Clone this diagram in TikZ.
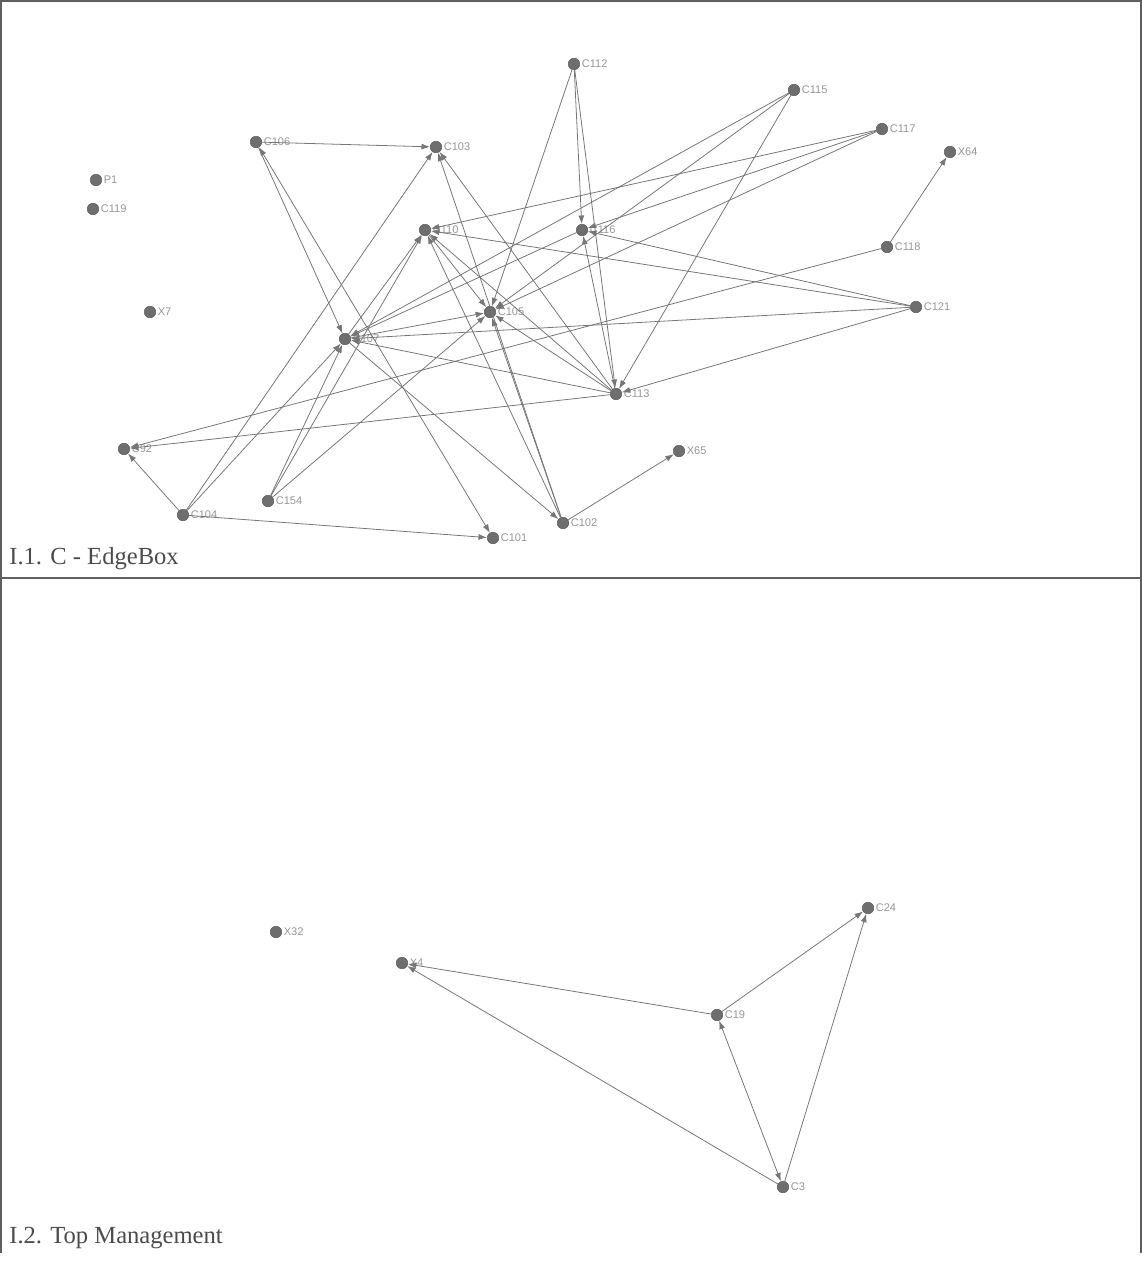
\documentclass[tikz,border=0pt]{standalone}
\usepackage{fontspec}
\setmainfont{Liberation Serif}
\setsansfont{Liberation Sans}
\usetikzlibrary{arrows.meta}
\definecolor{edgegray}{RGB}{118, 118, 118}
\definecolor{dotgray}{RGB}{110, 110, 110}
\definecolor{labgray}{RGB}{150, 150, 150}
\definecolor{framegray}{RGB}{95, 95, 95}
\definecolor{capgray}{RGB}{75, 75, 75}
\tikzset{
    vx/.style   ={circle, fill=dotgray, draw=dotgray!85!black, line width=0.3pt,
                  inner sep=0pt, minimum size=0.23cm},
    tag/.style  ={font=\sffamily\fontsize{6.3}{7}\selectfont, text=labgray,
                  inner sep=0.8pt},
    ed/.style   ={-{Latex[length=1.7mm, width=1.2mm]}, line width=0.45pt, draw=edgegray},
    edb/.style  ={{Latex[length=1.7mm, width=1.2mm]}-{Latex[length=1.7mm, width=1.2mm]},
                  line width=0.45pt, draw=edgegray},
    frame/.style={draw=framegray, line width=0.6pt},
    captxt/.style={font=\fontsize{14}{16}\selectfont, text=capgray, anchor=west, inner sep=0pt}
}

\begin{document}
\begin{tikzpicture}[x=0.02cm, y=-0.02cm]
  \useasboundingbox (0,0) rectangle (1142,1265);
  \draw[frame] (1,1253) -- (1,1) -- (1141,1) -- (1141,1253);
  \draw[frame] (1,578) -- (1141,578);

  % panel I.1
  \node[vx, label={[tag]right:C112}] (c112) at (574,64)  {};
  \node[vx, label={[tag]right:C115}] (c115) at (794,90)  {};
  \node[vx, label={[tag]right:C117}] (c117) at (882,129) {};
  \node[vx, label={[tag]right:X64}]  (x64)  at (950,152) {};
  \node[vx, label={[tag]right:C106}] (c106) at (256,142) {};
  \node[vx, label={[tag]right:C103}] (c103) at (436,147) {};
  \node[vx, label={[tag]right:P1}]   (p1)   at (96,180)  {};
  \node[vx, label={[tag]right:C119}] (c119) at (93,209)  {};
  \node[vx, label={[tag]right:C110}] (c110) at (425,230) {};
  \node[vx, label={[tag]right:C116}] (c116) at (582,230) {};
  \node[vx, label={[tag]right:C118}] (c118) at (887,247) {};
  \node[vx, label={[tag]right:X7}]   (x7)   at (150,312) {};
  \node[vx, label={[tag]right:C105}] (c105) at (490,312) {};
  \node[vx, label={[tag]right:C121}] (c121) at (916,307) {};
  \node[vx, label={[tag]right:C107}] (c107) at (345,339) {};
  \node[vx, label={[tag]right:C113}] (c113) at (616,394) {};
  \node[vx, label={[tag]right:C92}]  (c92)  at (124,449) {};
  \node[vx, label={[tag]right:X65}]  (x65)  at (679,451) {};
  \node[vx, label={[tag]right:C154}] (c154) at (268,501) {};
  \node[vx, label={[tag]right:C104}] (c104) at (183,515) {};
  \node[vx, label={[tag]right:C102}] (c102) at (563,523) {};
  \node[vx, label={[tag]right:C101}] (c101) at (493,538) {};

  \draw[ed] (c106) -- (c103);  \draw[ed] (c106) -- (c107);  \draw[edb] (c106) -- (c101);
  \draw[ed] (c104) -- (c103);  \draw[ed] (c104) -- (c107);  \draw[ed] (c104) -- (c92);
  \draw[ed] (c104) -- (c101);
  \draw[ed] (c154) -- (c107);  \draw[ed] (c154) -- (c110);  \draw[ed] (c154) -- (c105);
  \draw[ed] (c102) -- (c103);  \draw[ed] (c102) -- (c110);  \draw[ed] (c102) -- (c105);
  \draw[ed] (c102) -- (x65);   \draw[ed] (c107) -- (c102);
  \draw[ed] (c121) -- (c110);  \draw[ed] (c117) -- (c110);  \draw[ed] (c113) -- (c110);
  \draw[ed] (c110) -- (c105);  \draw[ed] (c107) -- (c110);
  \draw[ed] (c112) -- (c116);  \draw[ed] (c112) -- (c113);  \draw[ed] (c112) -- (c105);
  \draw[ed] (c113) -- (c116);  \draw[ed] (c121) -- (c116);  \draw[ed] (c117) -- (c116);
  \draw[ed] (c116) -- (c107);
  \draw[ed] (c115) -- (c107);  \draw[ed] (c115) -- (c105);  \draw[ed] (c115) -- (c113);
  \draw[ed] (c117) -- (c105);
  \draw[ed] (c118) -- (x64);   \draw[ed] (c118) -- (c92);   \draw[ed] (c113) -- (c92);
  \draw[ed] (c121) -- (c107);  \draw[ed] (c113) -- (c107);  \draw[ed] (c121) -- (c113);
  \draw[ed] (c113) -- (c103);  \draw[ed] (c113) -- (c105);  \draw[ed] (c107) -- (c105);

  \node[captxt] (cap1) at (9,559) {I.1. C - EdgeBox};

  % panel I.2
  \node[vx, label={[tag]right:X32}] (x32) at (276,932)  {};
  \node[vx, label={[tag]right:X4}]  (x4)  at (402,963)  {};
  \node[vx, label={[tag]right:C19}] (c19) at (717,1015) {};
  \node[vx, label={[tag]right:C24}] (c24) at (868,908)  {};
  \node[vx, label={[tag]right:C3}]  (c3)  at (783,1187) {};

  \draw[ed] (c19) -- (x4);   \draw[ed] (c3) -- (x4);
  \draw[ed] (c19) -- (c24);  \draw[ed] (c3) -- (c24);
  \draw[edb] (c19) -- (c3);

  \node[captxt] (cap2) at (9,1238) {I.2. Top Management};
\end{tikzpicture}
\end{document}
